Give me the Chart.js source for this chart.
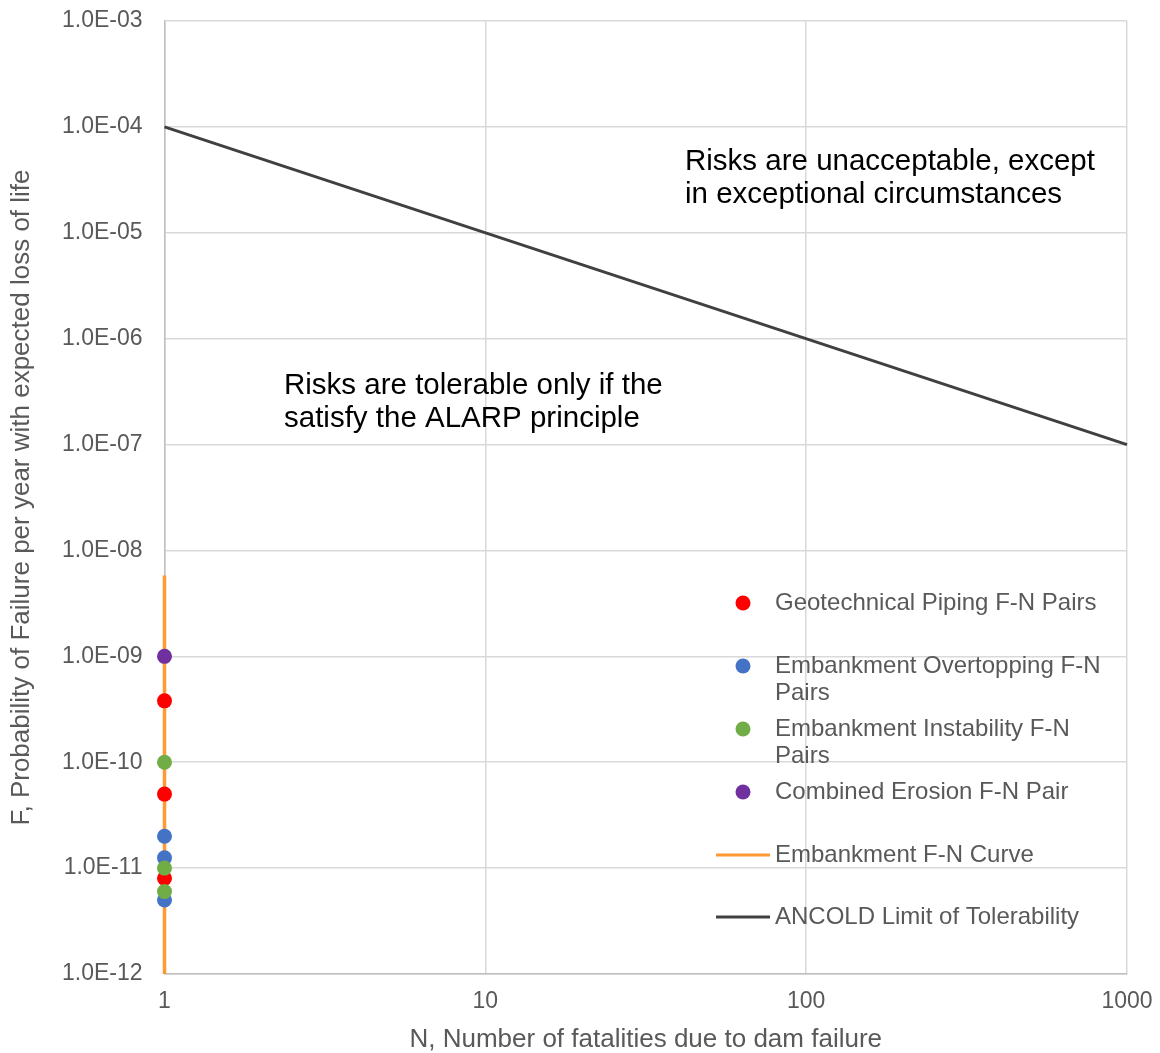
<!DOCTYPE html>
<html>
<head>
<meta charset="utf-8">
<script src="https://cdn.jsdelivr.net/npm/chart.js@4/dist/chart.umd.min.js"></script>
<style>
  html, body { margin: 0; padding: 0; background: #ffffff; }
  #wrap { width: 1160px; height: 1053px; position: relative; }
</style>
</head>
<body>
<div id="wrap"><canvas id="fn"></canvas></div>
<script>
// Number of fatalities for each F-N pair
const pairN = [1];
// Annual probabilities of failure, by failure mode
const geoPipingF = [3.8e-10, 5e-11, 8e-12];
const overtoppingF = [2e-11, 1.25e-11, 5e-12];
const instabilityF = [1e-10, 1e-11, 6e-12];
const combinedErosionF = [1e-9];
// Embankment F-N curve (vertical step at N = 1)
const curveN = [1, 1];
const curveF = [5.8e-9, 1e-12];
// ANCOLD limit of tolerability
const ancoldN = [1, 1000];
const ancoldF = [1e-4, 1e-7];
// Axis ticks
const xTickValues = [1, 10, 100, 1000];
const yTickValues = [1e-12, 1e-11, 1e-10, 1e-9, 1e-8, 1e-7, 1e-6, 1e-5, 1e-4, 1e-3];

const FONT = "'Liberation Sans', Arial, sans-serif";
const GREY_TEXT = '#595959';

function pairs(xs, ys) {
  return ys.map((y, i) => ({ x: xs.length === 1 ? xs[0] : xs[i], y: y }));
}

function sciLabel(v) {
  const e = Math.round(Math.log10(v));
  return '1.0E' + (e < 0 ? '-' : '+') + String(Math.abs(e)).padStart(2, '0');
}

const pointStyle = (color, order) => ({
  type: 'scatter',
  backgroundColor: color,
  borderColor: color,
  pointRadius: 7.5,
  pointHoverRadius: 7.5,
  borderWidth: 0,
  showLine: false,
  clip: false,
  order: order
});

const datasets = [
  Object.assign({ label: 'Geotechnical Piping F-N Pairs', data: pairs(pairN, geoPipingF) }, pointStyle('#FF0000', 4)),
  Object.assign({ label: 'Embankment Overtopping F-N Pairs', data: pairs(pairN, overtoppingF) }, pointStyle('#4472C4', 3)),
  Object.assign({ label: 'Embankment Instability F-N Pairs', data: pairs(pairN, instabilityF) }, pointStyle('#70AD47', 2)),
  Object.assign({ label: 'Combined Erosion F-N Pair', data: pairs(pairN, combinedErosionF) }, pointStyle('#7030A0', 1)),
  {
    type: 'line', label: 'Embankment F-N Curve', data: pairs(curveN, curveF),
    borderColor: '#FF9933', backgroundColor: '#FF9933', borderWidth: 3.5,
    pointRadius: 0, fill: false, tension: 0, clip: false, order: 10
  },
  {
    type: 'line', label: 'ANCOLD Limit of Tolerability', data: pairs(ancoldN, ancoldF),
    borderColor: '#404040', backgroundColor: '#404040', borderWidth: 3,
    pointRadius: 0, fill: false, tension: 0, clip: false, order: 9
  }
];

// Legend drawn inside the plot area, with word-wrapped labels
const insideLegend = {
  id: 'insideLegend',
  afterDatasetsDraw(chart) {
    const ctx = chart.ctx;
    const x0 = 716, markX = 743, textX = 775, maxW = 335, lineH = 27;
    const rows = [603, 666, 729, 792, 855, 917];
    ctx.save();
    ctx.font = '24px ' + FONT;
    ctx.textBaseline = 'middle';
    ctx.textAlign = 'left';
    chart.data.datasets.forEach((ds, i) => {
      const y = rows[i];
      if (ds.type === 'line') {
        ctx.strokeStyle = ds.borderColor;
        ctx.lineWidth = 3;
        ctx.beginPath();
        ctx.moveTo(x0, y);
        ctx.lineTo(770, y);
        ctx.stroke();
      } else {
        ctx.fillStyle = ds.backgroundColor;
        ctx.beginPath();
        ctx.arc(markX, y, 7.5, 0, Math.PI * 2);
        ctx.fill();
      }
      // wrap words
      const words = ds.label.split(' ');
      const lines = [];
      let cur = '';
      words.forEach(w => {
        const test = cur ? cur + ' ' + w : w;
        if (ctx.measureText(test).width > maxW && cur) { lines.push(cur); cur = w; }
        else cur = test;
      });
      lines.push(cur);
      ctx.fillStyle = GREY_TEXT;
      lines.forEach((ln, k) => ctx.fillText(ln, textX, y + k * lineH));
    });
    ctx.restore();
  }
};

// Region notes
const regionNotes = {
  id: 'regionNotes',
  afterDatasetsDraw(chart) {
    const ctx = chart.ctx;
    ctx.save();
    ctx.font = '29.5px ' + FONT;
    ctx.fillStyle = '#000000';
    ctx.textBaseline = 'middle';
    ctx.textAlign = 'left';
    ctx.fillText('Risks are unacceptable, except', 685, 162);
    ctx.fillText('in exceptional circumstances', 685, 195);
    ctx.fillText('Risks are tolerable only if the', 284, 386);
    ctx.fillText('satisfy the ALARP principle', 284, 419);
    ctx.restore();
  }
};

new Chart(document.getElementById('fn'), {
  type: 'scatter',
  data: { datasets: datasets },
  options: {
    responsive: true,
    maintainAspectRatio: false,
    animation: false,
    layout: { padding: { top: 21, right: 33, left: 0, bottom: 0 } },
    plugins: {
      legend: { display: false },
      tooltip: { enabled: false }
    },
    scales: {
      x: {
        type: 'logarithmic',
        min: 1, max: 1000,
        afterBuildTicks(scale) { scale.ticks = xTickValues.map(v => ({ value: v })); },
        afterFit(scale) {
          scale.height = 79;
          scale.paddingLeft = 0; scale.paddingRight = 0;
          scale.paddingTop = 0; scale.paddingBottom = 0;
        },
        ticks: {
          color: GREY_TEXT, font: { family: FONT, size: 23 }, padding: 14,
          maxRotation: 0, autoSkip: false,
          callback: v => String(v)
        },
        grid: { color: '#d9d9d9', lineWidth: 1.5, drawTicks: false },
        border: { color: '#bfbfbf', width: 1.5 },
        title: {
          display: true, text: 'N, Number of fatalities due to dam failure',
          color: GREY_TEXT, font: { family: FONT, size: 26, lineHeight: 1 },
          padding: { top: 0, bottom: 0 }
        }
      },
      y: {
        type: 'logarithmic',
        min: 1e-12, max: 1e-3,
        afterBuildTicks(scale) { scale.ticks = yTickValues.map(v => ({ value: v })); },
        afterFit(scale) {
          scale.width = 164.5;
          scale.paddingLeft = 0; scale.paddingRight = 0;
          scale.paddingTop = 0; scale.paddingBottom = 0;
        },
        ticks: {
          color: GREY_TEXT, font: { family: FONT, size: 23 }, padding: 22,
          autoSkip: false,
          callback: v => sciLabel(v)
        },
        grid: { color: '#d9d9d9', lineWidth: 1.5, drawTicks: false },
        border: { color: '#bfbfbf', width: 1.5 },
        title: {
          display: true, text: 'F, Probability of Failure per year with expected loss of life',
          color: GREY_TEXT, font: { family: FONT, size: 26, lineHeight: 1 },
          padding: { top: 9, bottom: 0 }
        }
      }
    }
  },
  plugins: [insideLegend, regionNotes]
});
</script>
</body>
</html>
